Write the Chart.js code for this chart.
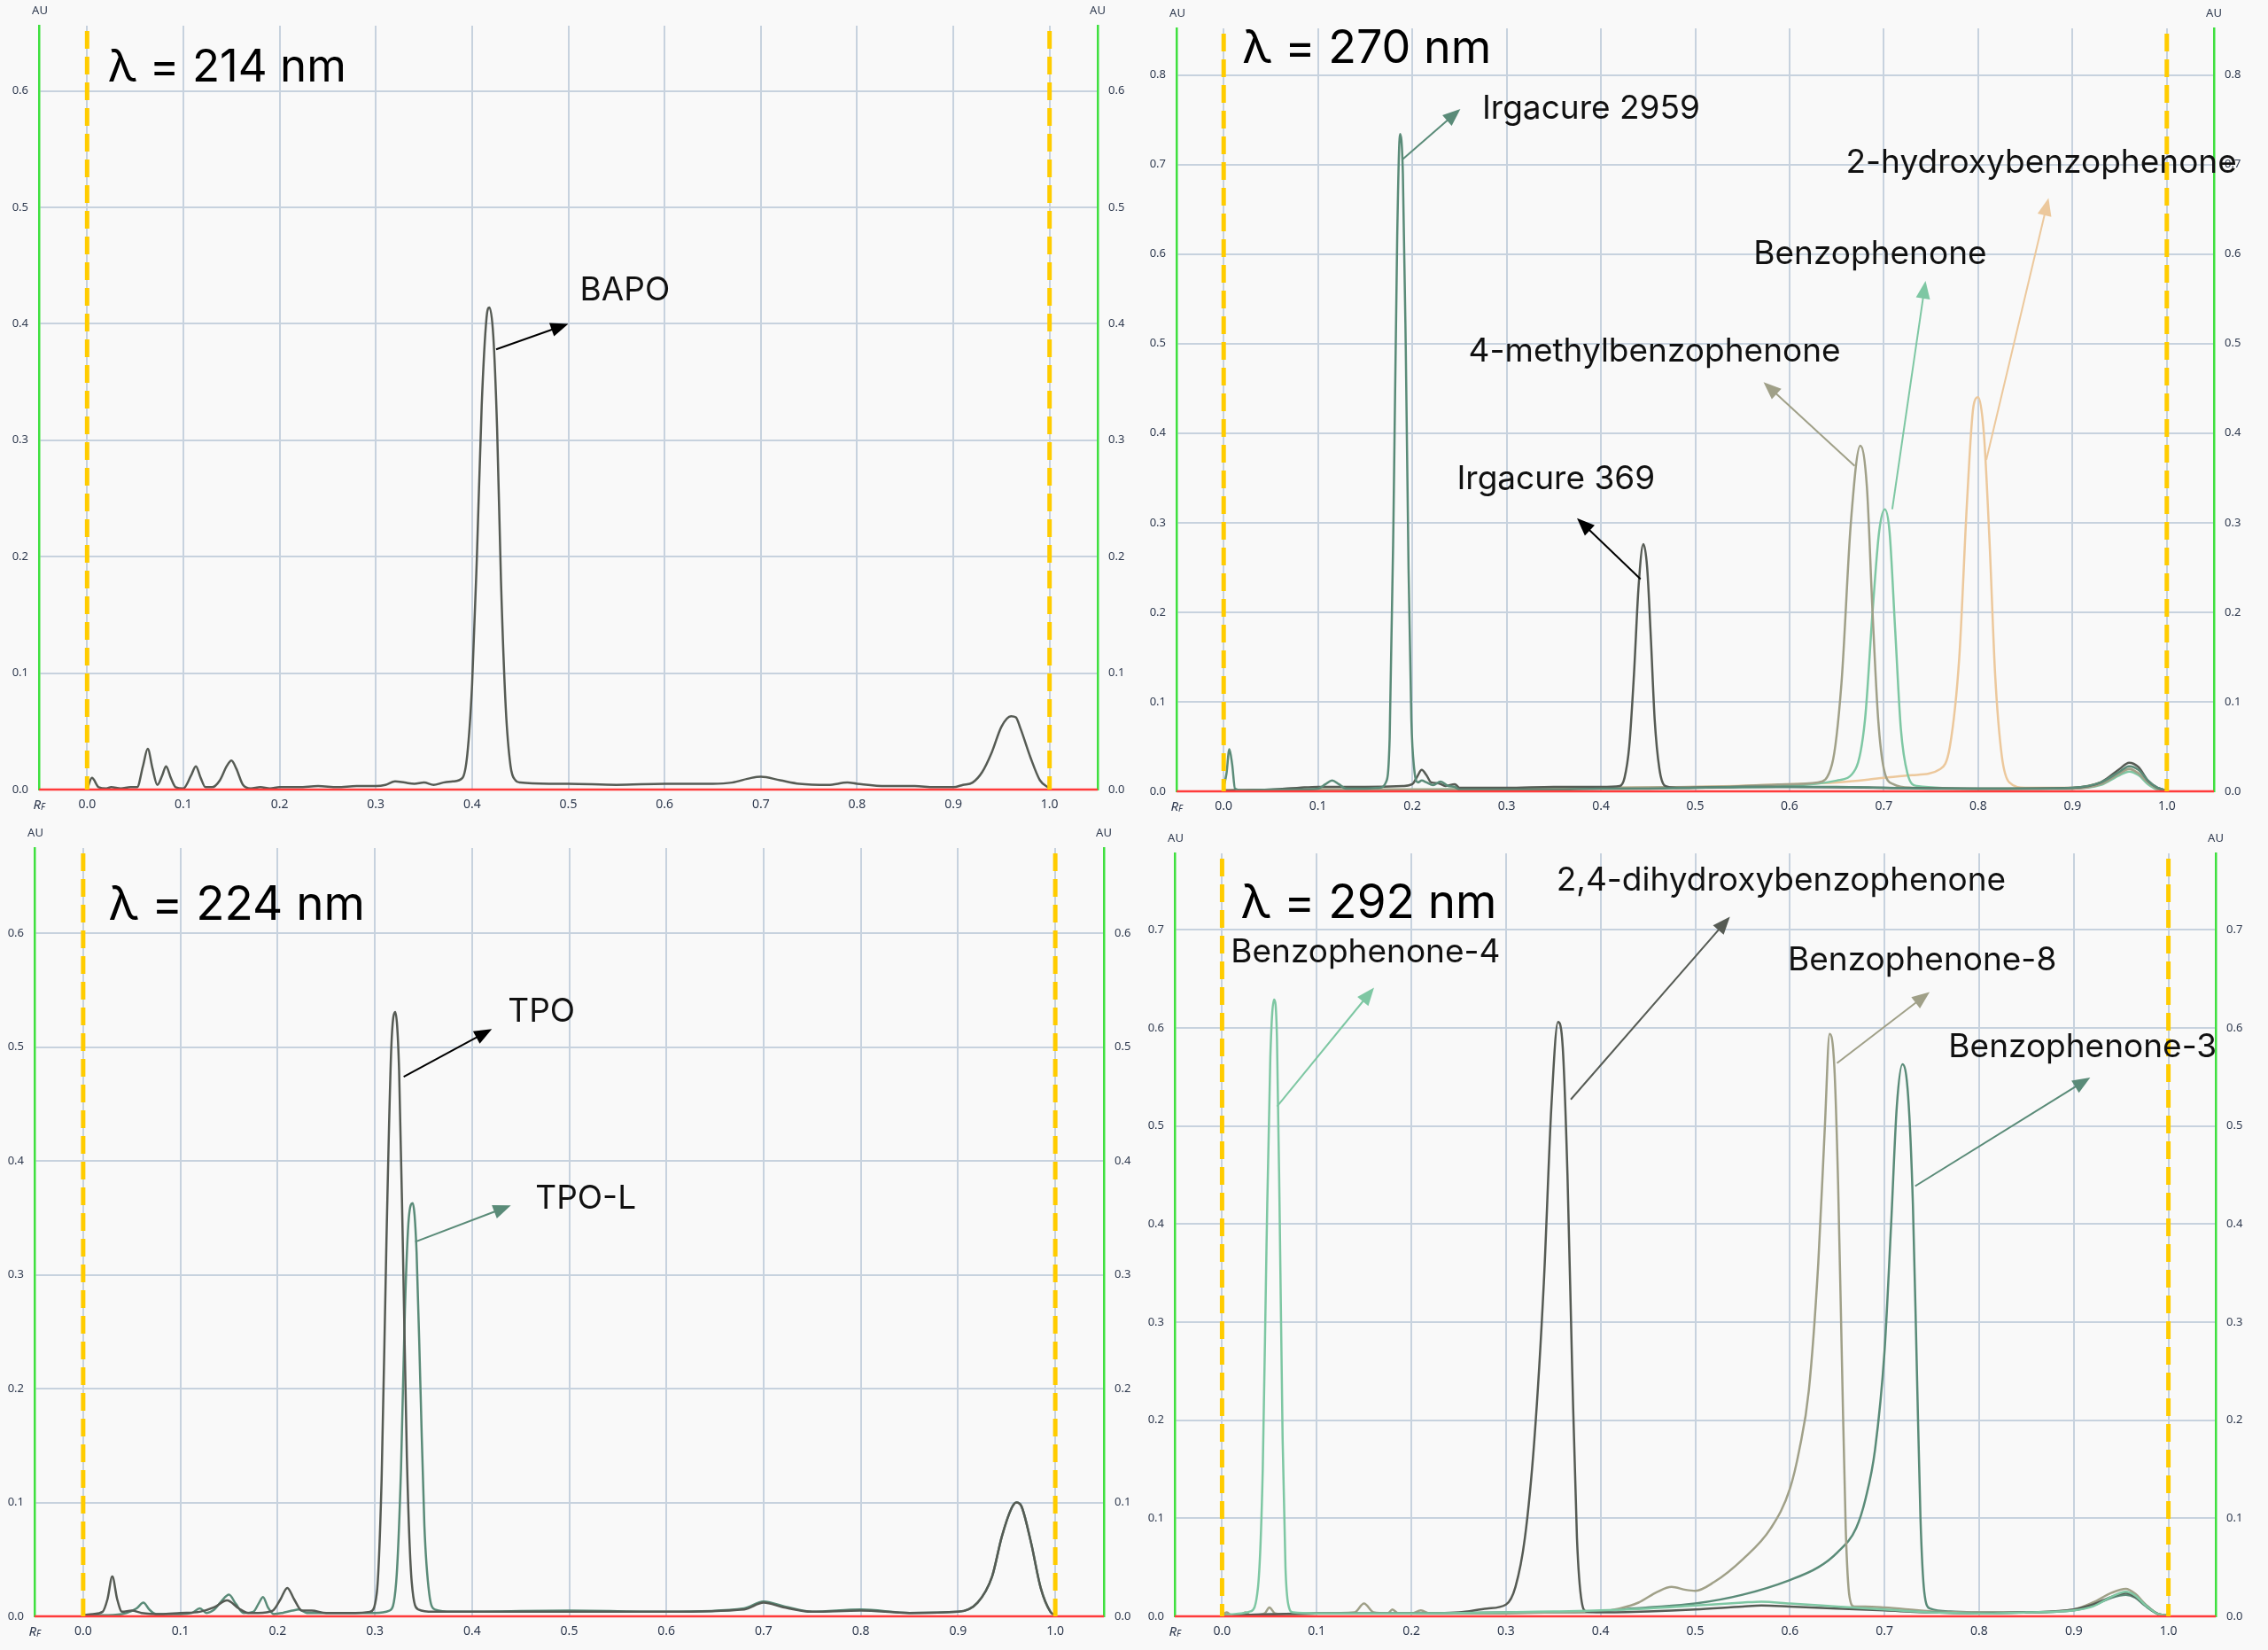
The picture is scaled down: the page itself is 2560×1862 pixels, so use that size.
<!DOCTYPE html>
<html>
<head>
<meta charset="utf-8">
<script src="https://cdn.jsdelivr.net/npm/chart.js@4.4.1/dist/chart.umd.min.js"></script>
<style>
html, body { margin: 0; padding: 0; background: #f9f9f9; }
body { width: 2560px; height: 1862px; position: relative; overflow: hidden; }
canvas { position: absolute; }
</style>
</head>
<body>
<canvas id="c214" width="1290" height="930" style="left:0px;top:0px"></canvas>
<canvas id="c270" width="1292" height="930" style="left:1268px;top:0px"></canvas>
<canvas id="c224" width="1290" height="932" style="left:0px;top:930px"></canvas>
<canvas id="c292" width="1292" height="932" style="left:1268px;top:930px"></canvas>
<script>
// Rf tick positions (x axis)
const rfTicks = [0.0, 0.1, 0.2, 0.3, 0.4, 0.5, 0.6, 0.7, 0.8, 0.9, 1.0];

// ---- 214 nm ----
const bapo214 = [[0,0],[0.005,0.01],[0.012,0.002],[0.02,0.001],[0.025,0.002],[0.035,0.001],[0.045,0.002],[0.052,0.002],
  [0.058,0.02],[0.063,0.035],[0.068,0.018],[0.073,0.004],[0.078,0.012],[0.082,0.02],[0.087,0.01],[0.092,0.002],[0.1,0.001],
  [0.108,0.012],[0.113,0.02],[0.118,0.01],[0.123,0.002],[0.13,0.002],[0.138,0.008],[0.145,0.02],[0.15,0.025],[0.155,0.018],
  [0.162,0.004],[0.17,0.001],[0.18,0.002],[0.19,0.001],[0.2,0.002],[0.22,0.002],[0.24,0.003],[0.26,0.002],[0.28,0.003],
  [0.3,0.003],[0.31,0.004],[0.32,0.007],[0.33,0.006],[0.34,0.005],[0.35,0.006],[0.36,0.004],[0.37,0.006],[0.38,0.007],
  [0.39,0.01],[0.395,0.03],[0.4,0.09],[0.405,0.2],[0.41,0.33],[0.415,0.405],[0.418,0.414],[0.422,0.39],[0.426,0.31],
  [0.43,0.18],[0.435,0.07],[0.44,0.02],[0.445,0.008],[0.45,0.006],[0.48,0.005],[0.5,0.005],[0.55,0.004],[0.6,0.005],
  [0.65,0.005],[0.67,0.006],[0.69,0.01],[0.7,0.011],[0.72,0.008],[0.74,0.005],[0.77,0.004],[0.79,0.006],[0.8,0.005],
  [0.83,0.003],[0.86,0.003],[0.88,0.002],[0.9,0.002],[0.91,0.004],[0.92,0.006],[0.93,0.015],[0.94,0.032],[0.95,0.054],
  [0.96,0.063],[0.965,0.062],[0.97,0.052],[0.98,0.028],[0.99,0.008],[1.0,0.001]];

// ---- 270 nm ----
const irg2959 = [[0,0.005],[0.003,0.02],[0.006,0.047],[0.009,0.03],[0.012,0.003],[0.02,0.001],[0.05,0.002],[0.08,0.002],
  [0.1,0.003],[0.108,0.008],[0.115,0.012],[0.122,0.008],[0.13,0.003],[0.15,0.003],[0.165,0.004],[0.172,0.01],[0.176,0.06],
  [0.18,0.3],[0.184,0.62],[0.187,0.734],[0.19,0.69],[0.193,0.5],[0.196,0.25],[0.199,0.08],[0.202,0.025],[0.206,0.01],
  [0.21,0.012],[0.215,0.01],[0.222,0.007],[0.23,0.011],[0.238,0.006],[0.245,0.005],[0.25,0.002],[0.3,0.002],[0.35,0.002],
  [0.4,0.003],[0.45,0.003],[0.5,0.004],[0.55,0.005],[0.6,0.005],[0.65,0.005],[0.7,0.004],[0.75,0.003],[0.8,0.003],
  [0.85,0.003],[0.9,0.004],[0.93,0.01],[0.95,0.022],[0.96,0.028],[0.97,0.024],[0.98,0.012],[0.99,0.004],[1.0,0.001]];
const irg369 = [[0,0.001],[0.05,0.002],[0.08,0.004],[0.1,0.005],[0.15,0.005],[0.19,0.006],[0.2,0.008],[0.205,0.016],
  [0.21,0.024],[0.215,0.018],[0.22,0.01],[0.228,0.009],[0.235,0.006],[0.245,0.008],[0.25,0.004],[0.3,0.004],[0.35,0.005],
  [0.4,0.005],[0.42,0.006],[0.425,0.015],[0.43,0.05],[0.435,0.13],[0.44,0.23],[0.445,0.276],[0.449,0.25],[0.453,0.17],
  [0.457,0.08],[0.462,0.025],[0.468,0.006],[0.48,0.004],[0.55,0.005],[0.6,0.005],[0.7,0.004],[0.8,0.003],[0.9,0.004],
  [0.93,0.01],[0.95,0.025],[0.96,0.032],[0.97,0.027],[0.98,0.012],[0.99,0.004],[1.0,0.001]];
const methylBp = [[0,0.001],[0.1,0.002],[0.2,0.002],[0.3,0.003],[0.4,0.004],[0.5,0.005],[0.55,0.006],[0.6,0.008],
  [0.63,0.01],[0.645,0.03],[0.655,0.12],[0.665,0.3],[0.675,0.386],[0.682,0.34],[0.688,0.2],[0.694,0.08],[0.7,0.025],
  [0.71,0.008],[0.73,0.004],[0.8,0.003],[0.9,0.003],[0.93,0.008],[0.95,0.02],[0.96,0.025],[0.97,0.02],[0.98,0.01],
  [0.99,0.003],[1.0,0.001]];
const benzophenone = [[0,0.001],[0.1,0.002],[0.2,0.002],[0.3,0.003],[0.4,0.003],[0.5,0.004],[0.6,0.006],[0.65,0.012],
  [0.67,0.025],[0.68,0.08],[0.688,0.2],[0.695,0.29],[0.701,0.315],[0.706,0.29],[0.712,0.18],[0.718,0.07],[0.725,0.02],
  [0.735,0.006],[0.8,0.003],[0.9,0.003],[0.93,0.007],[0.95,0.018],[0.96,0.022],[0.97,0.018],[0.98,0.008],[0.99,0.002],[1.0,0.001]];
const hydroxyBp = [[0,0.001],[0.1,0.002],[0.2,0.002],[0.3,0.003],[0.4,0.004],[0.5,0.005],[0.6,0.008],[0.65,0.01],
  [0.7,0.015],[0.73,0.018],[0.76,0.025],[0.77,0.05],[0.78,0.15],[0.788,0.32],[0.795,0.43],[0.8,0.44],[0.806,0.4],
  [0.812,0.28],[0.818,0.13],[0.825,0.04],[0.833,0.01],[0.85,0.004],[0.9,0.004],[0.93,0.01],[0.95,0.02],[0.96,0.025],
  [0.97,0.02],[0.98,0.01],[0.99,0.003],[1.0,0.001]];

// ---- 224 nm ----
const tpo224 = [[0,0.001],[0.01,0.002],[0.02,0.004],[0.025,0.015],[0.03,0.035],[0.035,0.015],[0.04,0.004],[0.05,0.005],
  [0.06,0.003],[0.08,0.002],[0.1,0.003],[0.12,0.004],[0.135,0.008],[0.148,0.014],[0.16,0.007],[0.17,0.003],[0.18,0.003],
  [0.195,0.005],[0.203,0.015],[0.21,0.025],[0.217,0.015],[0.225,0.005],[0.235,0.005],[0.25,0.003],[0.28,0.003],
  [0.295,0.004],[0.302,0.02],[0.307,0.12],[0.312,0.33],[0.317,0.5],[0.321,0.531],[0.325,0.48],[0.329,0.32],[0.333,0.14],
  [0.338,0.03],[0.345,0.006],[0.36,0.004],[0.4,0.004],[0.5,0.004],[0.6,0.004],[0.68,0.006],[0.7,0.012],[0.72,0.008],
  [0.75,0.004],[0.8,0.005],[0.85,0.003],[0.9,0.004],[0.92,0.012],[0.935,0.035],[0.945,0.07],[0.955,0.095],[0.96,0.1],
  [0.965,0.097],[0.975,0.065],[0.985,0.025],[0.995,0.004],[1.0,0.001]];
const tpoL224 = [[0,0.001],[0.02,0.001],[0.04,0.002],[0.045,0.003],[0.055,0.007],[0.062,0.012],[0.068,0.006],[0.075,0.002],
  [0.1,0.002],[0.112,0.003],[0.12,0.007],[0.127,0.003],[0.135,0.006],[0.142,0.013],[0.15,0.019],[0.157,0.011],[0.165,0.003],
  [0.175,0.004],[0.181,0.012],[0.185,0.017],[0.19,0.008],[0.196,0.002],[0.205,0.003],[0.215,0.005],[0.222,0.006],
  [0.23,0.003],[0.25,0.003],[0.3,0.003],[0.315,0.005],[0.322,0.03],[0.327,0.13],[0.331,0.27],[0.335,0.35],[0.339,0.363],
  [0.343,0.32],[0.347,0.2],[0.351,0.08],[0.356,0.02],[0.362,0.006],[0.38,0.004],[0.5,0.005],[0.6,0.004],[0.68,0.007],
  [0.7,0.013],[0.72,0.009],[0.75,0.004],[0.8,0.006],[0.85,0.003],[0.9,0.004],[0.92,0.012],[0.935,0.035],[0.945,0.07],
  [0.955,0.095],[0.96,0.1],[0.965,0.097],[0.975,0.065],[0.985,0.025],[0.995,0.004],[1.0,0.001]];

// ---- 292 nm ----
const bp4 = [[0,0.001],[0.01,0.002],[0.02,0.003],[0.03,0.005],[0.038,0.03],[0.043,0.15],[0.047,0.38],[0.051,0.57],
  [0.055,0.629],[0.058,0.59],[0.061,0.4],[0.064,0.18],[0.067,0.05],[0.07,0.012],[0.075,0.004],[0.1,0.003],[0.15,0.003],
  [0.2,0.003],[0.3,0.004],[0.35,0.005],[0.4,0.006],[0.45,0.008],[0.5,0.011],[0.55,0.014],[0.57,0.015],[0.6,0.013],
  [0.65,0.01],[0.7,0.007],[0.75,0.004],[0.8,0.003],[0.85,0.004],[0.9,0.006],[0.92,0.01],[0.94,0.02],[0.955,0.025],
  [0.965,0.021],[0.975,0.012],[0.99,0.002],[1.0,0.001]];
const dihydroxyBp = [[0,0.001],[0.05,0.002],[0.1,0.003],[0.15,0.003],[0.2,0.003],[0.25,0.004],[0.28,0.008],[0.3,0.012],
  [0.31,0.03],[0.32,0.08],[0.33,0.18],[0.34,0.34],[0.348,0.52],[0.355,0.606],[0.36,0.58],[0.365,0.45],[0.37,0.25],
  [0.375,0.08],[0.38,0.015],[0.385,0.005],[0.4,0.004],[0.45,0.005],[0.5,0.007],[0.55,0.01],[0.57,0.011],[0.6,0.01],
  [0.65,0.008],[0.7,0.006],[0.75,0.004],[0.8,0.003],[0.85,0.004],[0.9,0.007],[0.92,0.012],[0.94,0.02],[0.955,0.024],
  [0.965,0.02],[0.975,0.012],[0.99,0.002],[1.0,0.001]];
const bp8 = [[0,0.001],[0.005,0.004],[0.01,0.001],[0.02,0.002],[0.025,0.004],[0.03,0.001],[0.045,0.003],[0.05,0.009],
  [0.056,0.003],[0.07,0.002],[0.1,0.003],[0.14,0.004],[0.15,0.013],[0.16,0.004],[0.175,0.003],[0.18,0.007],[0.186,0.003],
  [0.2,0.003],[0.21,0.006],[0.22,0.003],[0.25,0.003],[0.3,0.003],[0.35,0.004],[0.4,0.005],[0.42,0.008],[0.44,0.014],
  [0.46,0.025],[0.475,0.03],[0.49,0.027],[0.5,0.026],[0.52,0.035],[0.55,0.058],[0.58,0.09],[0.6,0.13],[0.61,0.17],
  [0.62,0.23],[0.63,0.36],[0.637,0.5],[0.642,0.594],[0.647,0.56],[0.651,0.44],[0.655,0.26],[0.659,0.09],[0.663,0.02],
  [0.668,0.01],[0.68,0.01],[0.7,0.009],[0.75,0.005],[0.8,0.004],[0.85,0.004],[0.9,0.007],[0.92,0.014],[0.94,0.024],
  [0.955,0.028],[0.965,0.023],[0.975,0.013],[0.99,0.002],[1.0,0.001]];
const bp3 = [[0,0.001],[0.05,0.002],[0.1,0.003],[0.2,0.003],[0.3,0.004],[0.35,0.004],[0.4,0.005],[0.42,0.007],
  [0.45,0.009],[0.5,0.013],[0.55,0.022],[0.6,0.037],[0.63,0.05],[0.65,0.065],[0.67,0.09],[0.68,0.12],[0.69,0.17],
  [0.7,0.27],[0.707,0.4],[0.713,0.52],[0.719,0.563],[0.725,0.53],[0.73,0.42],[0.734,0.26],[0.738,0.1],[0.742,0.025],
  [0.748,0.008],[0.77,0.005],[0.8,0.004],[0.85,0.004],[0.9,0.006],[0.92,0.011],[0.94,0.019],[0.955,0.022],[0.965,0.019],
  [0.975,0.011],[0.99,0.002],[1.0,0.001]];

const DARK = '#565b54', TEAL = '#5a8b78', LIGHT = '#7ec7a3', KHAKI = '#a0a088', TAN = '#ecc89c';

function pts(arr) { return arr.map(p => ({ x: p[0], y: p[1] })); }
function line(label, arr, color) {
  return { label: label, data: pts(arr), borderColor: color, borderWidth: 2.5, pointRadius: 0,
           cubicInterpolationMode: 'monotone', fill: false };
}

function drawArrow(ctx, x1, y1, x2, y2, color) {
  const a = Math.atan2(y2 - y1, x2 - x1), L = 20, W = 8;
  ctx.strokeStyle = color; ctx.lineWidth = 2;
  ctx.beginPath(); ctx.moveTo(x1, y1);
  ctx.lineTo(x2 - L * 0.8 * Math.cos(a), y2 - L * 0.8 * Math.sin(a)); ctx.stroke();
  ctx.fillStyle = color; ctx.beginPath(); ctx.moveTo(x2, y2);
  ctx.lineTo(x2 - L * Math.cos(a) + W * Math.sin(a), y2 - L * Math.sin(a) - W * Math.cos(a));
  ctx.lineTo(x2 - L * Math.cos(a) - W * Math.sin(a), y2 - L * Math.sin(a) + W * Math.cos(a));
  ctx.closePath(); ctx.fill();
}

// box: chart area in canvas coords
function makePanel(id, box, yMax, datasets, lambda, notes) {
  const cv = document.getElementById(id);
  const W = cv.width, H = cv.height;
  const overlay = {
    id: 'overlay',
    afterDatasetsDraw(chart) {
      const ctx = chart.ctx, a = chart.chartArea, xs = chart.scales.x, ys = chart.scales.y;
      ctx.save();
      // zero line
      ctx.strokeStyle = '#ff3b3b'; ctx.lineWidth = 2.5;
      ctx.beginPath(); ctx.moveTo(a.left, ys.getPixelForValue(0)); ctx.lineTo(a.right, ys.getPixelForValue(0)); ctx.stroke();
      // Rf start / front lines
      ctx.strokeStyle = '#ffcc00'; ctx.lineWidth = 5; ctx.setLineDash([20, 9]);
      [0, 1].forEach(v => {
        const px = xs.getPixelForValue(v);
        ctx.beginPath(); ctx.moveTo(px, a.top + 6); ctx.lineTo(px, a.bottom); ctx.stroke();
      });
      ctx.setLineDash([]);
      // annotations
      notes.forEach(n => {
        drawArrow(ctx, xs.getPixelForValue(n.from[0]), ys.getPixelForValue(n.from[1]),
                  xs.getPixelForValue(n.to[0]), ys.getPixelForValue(n.to[1]), n.color);
        ctx.fillStyle = '#111'; ctx.font = '37px Inter'; ctx.textAlign = 'left'; ctx.textBaseline = 'middle';
        ctx.fillText(n.text, xs.getPixelForValue(n.at[0]), ys.getPixelForValue(n.at[1]));
      });
      // wavelength label
      ctx.fillStyle = '#000'; ctx.font = lambda.size + 'px Inter'; ctx.textAlign = 'left'; ctx.textBaseline = 'alphabetic';
      ctx.fillText(lambda.text, xs.getPixelForValue(lambda.at[0]), ys.getPixelForValue(lambda.at[1]));
      // axis captions
      ctx.fillStyle = '#2f3a4f'; ctx.font = '13px "Noto Sans"'; ctx.textAlign = 'center'; ctx.textBaseline = 'middle';
      ctx.fillText('AU', a.left + 1, a.top - 17);
      ctx.fillText('AU', a.right, a.top - 17);
      ctx.font = 'italic 15px "Noto Sans"'; ctx.textAlign = 'right';
      ctx.fillText('R', a.left + 2, a.bottom + 18);
      ctx.font = 'italic 10px "Noto Sans"'; ctx.textAlign = 'left';
      ctx.fillText('F', a.left + 2, a.bottom + 20);
      ctx.restore();
    }
  };
  const yTicks = { color: '#2f3a4f', font: { family: 'Noto Sans', size: 13 }, padding: 12, stepSize: 0.1,
                   includeBounds: false, callback: v => v.toFixed(1) };
  new Chart(cv, {
    type: 'line',
    data: { datasets: datasets },
    plugins: [overlay],
    options: {
      responsive: false, animation: false, devicePixelRatio: 1,
      layout: { padding: { top: box.top, left: 0, right: 0, bottom: 0 } },
      plugins: { legend: { display: false }, tooltip: { enabled: false } },
      scales: {
        x: {
          type: 'linear', min: -0.05, max: 1.05,
          afterBuildTicks: s => { s.ticks = rfTicks.map(v => ({ value: v })); },
          afterFit: s => { s.height = H - box.bottom; },
          grid: { color: '#c7d2de', lineWidth: 2, drawTicks: false },
          border: { display: false },
          ticks: { color: '#2f3a4f', font: { family: 'Noto Sans', size: 14 }, padding: 9, maxRotation: 0,
                   autoSkip: false, callback: v => v.toFixed(1) }
        },
        y: {
          min: 0, max: yMax, position: 'left',
          afterFit: s => { s.width = box.left; },
          grid: { color: '#c7d2de', lineWidth: 2, drawTicks: false },
          border: { color: '#3fe03f', width: 2.5 },
          ticks: yTicks
        },
        y2: {
          min: 0, max: yMax, position: 'right',
          afterFit: s => { s.width = W - box.right; },
          grid: { drawOnChartArea: false, drawTicks: false },
          border: { color: '#3fe03f', width: 2.5 },
          ticks: yTicks
        }
      }
    }
  });
}

makePanel('c214', { left: 44, right: 1239, top: 29, bottom: 891 }, 0.656,
  [line('BAPO', bapo214, DARK)],
  { text: 'λ = 214 nm', at: [0.0216, 0.608], size: 51 },
  [{ text: 'BAPO', from: [0.425, 0.378], to: [0.5, 0.40], at: [0.512, 0.4286], color: '#000' }]);

makePanel('c270', { left: 60, right: 1231, top: 32, bottom: 893 }, 0.852,
  [line('Irgacure 2959', irg2959, TEAL), line('Irgacure 369', irg369, DARK), line('4-methylbenzophenone', methylBp, KHAKI),
   line('Benzophenone', benzophenone, LIGHT), line('2-hydroxybenzophenone', hydroxyBp, TAN)],
  { text: 'λ = 270 nm', at: [0.0197, 0.813], size: 52 },
  [{ text: 'Irgacure 2959', from: [0.19, 0.706], to: [0.251, 0.762], at: [0.274, 0.762], color: TEAL },
   { text: '2-hydroxybenzophenone', from: [0.8086, 0.37], to: [0.8746, 0.6625], at: [0.6597, 0.7014], color: TAN },
   { text: 'Benzophenone', from: [0.7089, 0.315], to: [0.7442, 0.57], at: [0.5618, 0.60], color: LIGHT },
   { text: '4-methylbenzophenone', from: [0.669, 0.3635], to: [0.5724, 0.457], at: [0.2596, 0.4912], color: KHAKI },
   { text: 'Irgacure 369', from: [0.442, 0.237], to: [0.3746, 0.305], at: [0.2472, 0.3489], color: '#000' }]);

makePanel('c224', { left: 39, right: 1246, top: 27, bottom: 894 }, 0.675,
  [line('TPO', tpo224, DARK), line('TPO-L', tpoL224, TEAL)],
  { text: 'λ = 224 nm', at: [0.026, 0.612], size: 53 },
  [{ text: 'TPO', from: [0.3297, 0.474], to: [0.4205, 0.516], at: [0.4369, 0.531], color: '#000' },
   { text: 'TPO-L', from: [0.3416, 0.329], to: [0.44, 0.361], at: [0.4652, 0.367], color: TEAL }]);

makePanel('c292', { left: 58, right: 1233, top: 33, bottom: 894 }, 0.778,
  [line('Benzophenone-4', bp4, LIGHT), line('2,4-dihydroxybenzophenone', dihydroxyBp, DARK),
   line('Benzophenone-8', bp8, KHAKI), line('Benzophenone-3', bp3, TEAL)],
  { text: 'λ = 292 nm', at: [0.0197, 0.712], size: 53 },
  [{ text: 'Benzophenone-4', from: [0.0581, 0.52], to: [0.1606, 0.641], at: [0.0092, 0.6765], color: LIGHT },
   { text: '2,4-dihydroxybenzophenone', from: [0.3685, 0.527], to: [0.5367, 0.7134], at: [0.3532, 0.7504], color: DARK },
   { text: 'Benzophenone-8', from: [0.6498, 0.564], to: [0.7477, 0.6366], at: [0.5979, 0.669], color: KHAKI },
   { text: 'Benzophenone-3', from: [0.7324, 0.4387], to: [0.9174, 0.5495], at: [0.7676, 0.5805], color: TEAL }]);
</script>
</body>
</html>
